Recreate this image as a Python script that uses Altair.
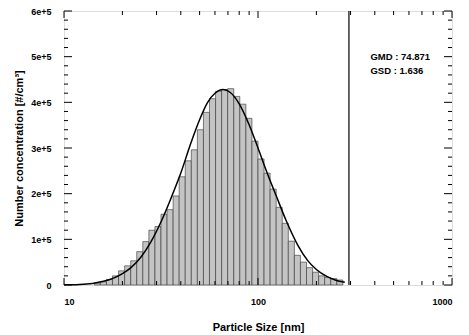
import altair as alt
import pandas as pd

# SMPS channel edges (nm), 32 channels per decade
bin_lo = [14.33, 15.40, 16.55, 17.78, 19.11, 20.54, 22.07, 23.71, 25.48, 27.38,
          29.43, 31.62, 33.98, 36.52, 39.24, 42.17, 45.32, 48.70, 52.33, 56.23,
          60.43, 64.94, 69.78, 74.99, 80.58, 86.60, 93.06, 100.0, 107.46, 115.48,
          124.09, 133.35, 143.30, 153.99, 165.48, 177.83, 191.10, 205.35, 220.67,
          237.14, 254.83]
bin_hi = [15.40, 16.55, 17.78, 19.11, 20.54, 22.07, 23.71, 25.48, 27.38, 29.43,
          31.62, 33.98, 36.52, 39.24, 42.17, 45.32, 48.70, 52.33, 56.23, 60.43,
          64.94, 69.78, 74.99, 80.58, 86.60, 93.06, 100.0, 107.46, 115.48, 124.09,
          133.35, 143.30, 153.99, 165.48, 177.83, 191.10, 205.35, 220.67, 237.14,
          254.83, 273.84]
counts = [4000, 7000, 12000, 20000, 31000, 42000, 53000, 73000, 95000, 120000,
          128000, 155000, 165000, 195000, 237000, 272000, 296000, 340000, 378000, 408000,
          424000, 428000, 430000, 413000, 396000, 365000, 315000, 276000, 245000, 210000,
          170000, 135000, 96000, 65000, 50000, 38000, 28000, 20000, 16500, 14000, 11000]

# Fitted log-normal curve
fit_d = [10, 12, 14, 16, 18, 20, 22, 25, 28, 32, 36, 40, 45, 50, 55, 60, 66, 72, 80,
         90, 100, 110, 125, 140, 160, 180, 200, 225, 250, 280]
fit_n = [300, 1200, 3500, 8000, 15000, 25000, 37000, 62000, 94000, 143000, 195000,
         245000, 310000, 362000, 400000, 420000, 428000, 421500, 396700, 351000,
         300000, 252000, 192000, 140000, 88000, 54000, 34000, 19300, 11100, 5800]

upper_limit = [294.27]
x_major = [10, 100, 1000]
x_minor = [20, 30, 40, 50, 60, 70, 80, 90, 200, 300, 400, 500, 600, 700, 800, 900]
y_major = [0, 100000, 200000, 300000, 400000, 500000, 600000]
y_minor = [v for v in range(20000, 600000, 20000) if v % 100000 != 0]
stats = ["GMD : 74.871", "GSD : 1.636"]
stats_y = [499000, 469000]
stats_x = [380, 380]

W, H = 388, 274
FONT = "Liberation Sans"

xs = alt.Scale(type="log", domain=[10, 1000])
ys = alt.Scale(domain=[0, 600000])

bars_df = pd.DataFrame({"lo": bin_lo, "hi": bin_hi, "n": counts})
fit_df = pd.DataFrame({"d": fit_d, "n": fit_n})

bars = alt.Chart(bars_df).mark_rect(
    fill="#c4c4c4", stroke="#333333", strokeWidth=0.6
).encode(
    x=alt.X("lo:Q", scale=xs, axis=alt.Axis(
        title="Particle Size [nm]", values=x_major, format="d",
        ticks=False, tickSize=0, domain=False, grid=False, labelPadding=12,
        labelFont=FONT, labelFontWeight="bold", labelFontSize=9, labelColor="black",
        titleFont=FONT, titleFontWeight="bold", titleFontSize=11, titleColor="black",
        titlePadding=15)),
    x2="hi:Q",
    y=alt.Y("n:Q", scale=ys, axis=alt.Axis(
        title="Number concentration [#/cm³]", values=y_major,
        labelExpr="datum.value == 0 ? '0' : (datum.value / 100000) + 'e+5'",
        ticks=False, tickSize=0, domain=False, grid=False, labelPadding=13,
        labelFont=FONT, labelFontWeight="bold", labelFontSize=9, labelColor="black",
        titleFont=FONT, titleFontWeight="bold", titleFontSize=11, titleColor="black",
        titlePadding=6)),
    y2=alt.datum(0),
)

curve = alt.Chart(fit_df).mark_line(
    color="black", strokeWidth=1.5, interpolate="monotone"
).encode(
    x=alt.X("d:Q", scale=xs),
    y=alt.Y("n:Q", scale=ys),
)

vline = alt.Chart(pd.DataFrame({"d": upper_limit})).mark_rule(
    color="black", strokeWidth=1.2
).encode(x=alt.X("d:Q", scale=xs))

def xticks(vals, y0, y1):
    return alt.Chart(pd.DataFrame({"d": vals})).mark_rule(
        color="black", strokeWidth=1
    ).encode(x=alt.X("d:Q", scale=xs), y=alt.value(y0), y2=alt.value(y1))

def yticks(vals, x0, x1):
    return alt.Chart(pd.DataFrame({"n": vals})).mark_rule(
        color="black", strokeWidth=1
    ).encode(y=alt.Y("n:Q", scale=ys), x=alt.value(x0), x2=alt.value(x1))

ticks = [
    xticks(x_major, H, H - 7), xticks(x_minor, H, H - 4),
    xticks(x_major, 0, 7), xticks(x_minor, 0, 4),
    yticks(y_major, 0, 8), yticks(y_minor, 0, 4),
    yticks(y_major, W, W - 8), yticks(y_minor, W, W - 4),
]

text = alt.Chart(pd.DataFrame({"t": stats, "x": stats_x, "y": stats_y})).mark_text(
    align="left", baseline="middle", font=FONT, fontSize=9.5, fontWeight="bold",
    color="black"
).encode(x=alt.X("x:Q", scale=xs), y=alt.Y("y:Q", scale=ys), text="t:N")

chart = alt.layer(bars, curve, vline, *ticks, text).properties(
    width=W, height=H,
    autosize=alt.AutoSizeParams(type="none"),
    padding={"left": 56, "top": 3, "right": 9, "bottom": 50},
).configure_view(stroke="black", strokeWidth=1.5).configure(background="white")

chart.save("out.html", embed_options={"renderer": "svg", "actions": False})
